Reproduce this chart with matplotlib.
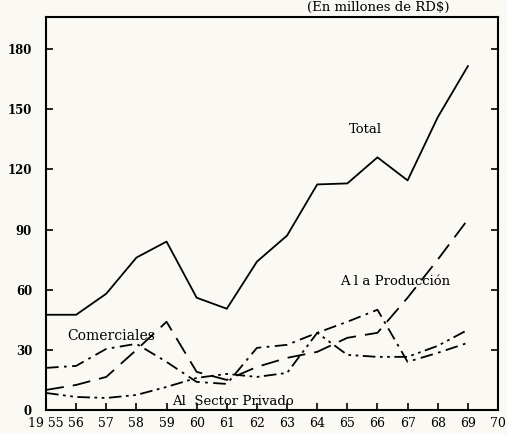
import numpy as np
import matplotlib.pyplot as plt

# Credito bancario por destino, 1955-1969 (En millones de RD$)
years = [55, 56, 57, 58, 59, 60, 61, 62, 63, 64, 65, 66, 67, 68, 69]
total = [47.5, 47.5, 58, 76, 84, 56, 50.5, 74, 87, 112.5, 113, 126, 114.5, 146, 171.5]
produccion = [10, 12.5, 16.5, 30, 44, 19, 15, 21.5, 26, 29, 36, 38.5, 56, 75, 95]
comerciales = [21, 22, 30.5, 33, 24, 14, 13, 31, 32.5, 38.5, 44, 50, 24, 28.5, 33.5]
privado = [8.5, 6.5, 6, 7.5, 11.5, 16, 18, 16.5, 18.5, 38.5, 27.5, 26.5, 26.5, 32, 40]

xtick_pos = list(range(55, 71))
xtick_labels = ["19 55"] + [str(y) for y in range(56, 71)]
ytick_pos = [0, 30, 60, 90, 120, 150, 180]

plt.rcParams["font.family"] = ["DejaVu Serif"]
bg = "#fbf9f3"

fig = plt.figure(figsize=(5.07, 4.34), dpi=100, facecolor=bg)
ax = fig.add_axes([46 / 507, 1 - 410 / 434, 452 / 507, 393 / 434], facecolor=bg)

ax.plot(years, total, color="black", lw=1.3, linestyle="-")
ax.plot(years, produccion, color="black", lw=1.3, dashes=(10, 5))
ax.plot(years, comerciales, color="black", lw=1.3, dashes=(7, 3, 1.5, 3))
ax.plot(years, privado, color="black", lw=1.3, dashes=(7, 2.5, 1.5, 2.5, 1.5, 2.5))

ax.set_xlim(55, 70)
ax.set_ylim(0, 196)

ax.set_xticks(xtick_pos)
ax.set_xticklabels(xtick_labels, fontsize=9)
ax.set_yticks(ytick_pos)
ax.set_yticklabels([str(v) for v in ytick_pos], fontsize=8.5, fontweight="bold")
ax.tick_params(axis="x", direction="in", length=5, width=1.2, pad=5)
ax.tick_params(axis="y", direction="in", length=5, width=1.2, pad=10,
               right=True)
for s in ax.spines.values():
    s.set_linewidth(1.5)

ax.text(65.05, 140, "Total", fontsize=9.5, ha="left", va="center")
ax.text(66.6, 64, "A l a Producción", fontsize=9.5, ha="center", va="center")
ax.text(55.7, 37, "Comerciales", fontsize=10, ha="left", va="center")
ax.text(59.2, 4, "Al  Sector Privado", fontsize=9.5, ha="left", va="center")

fig.text(378 / 507, 1 - 7 / 434, "(En millones de RD$)", fontsize=9.5,
         ha="center", va="center")

fig.savefig("out.png", dpi=100, facecolor=bg)
